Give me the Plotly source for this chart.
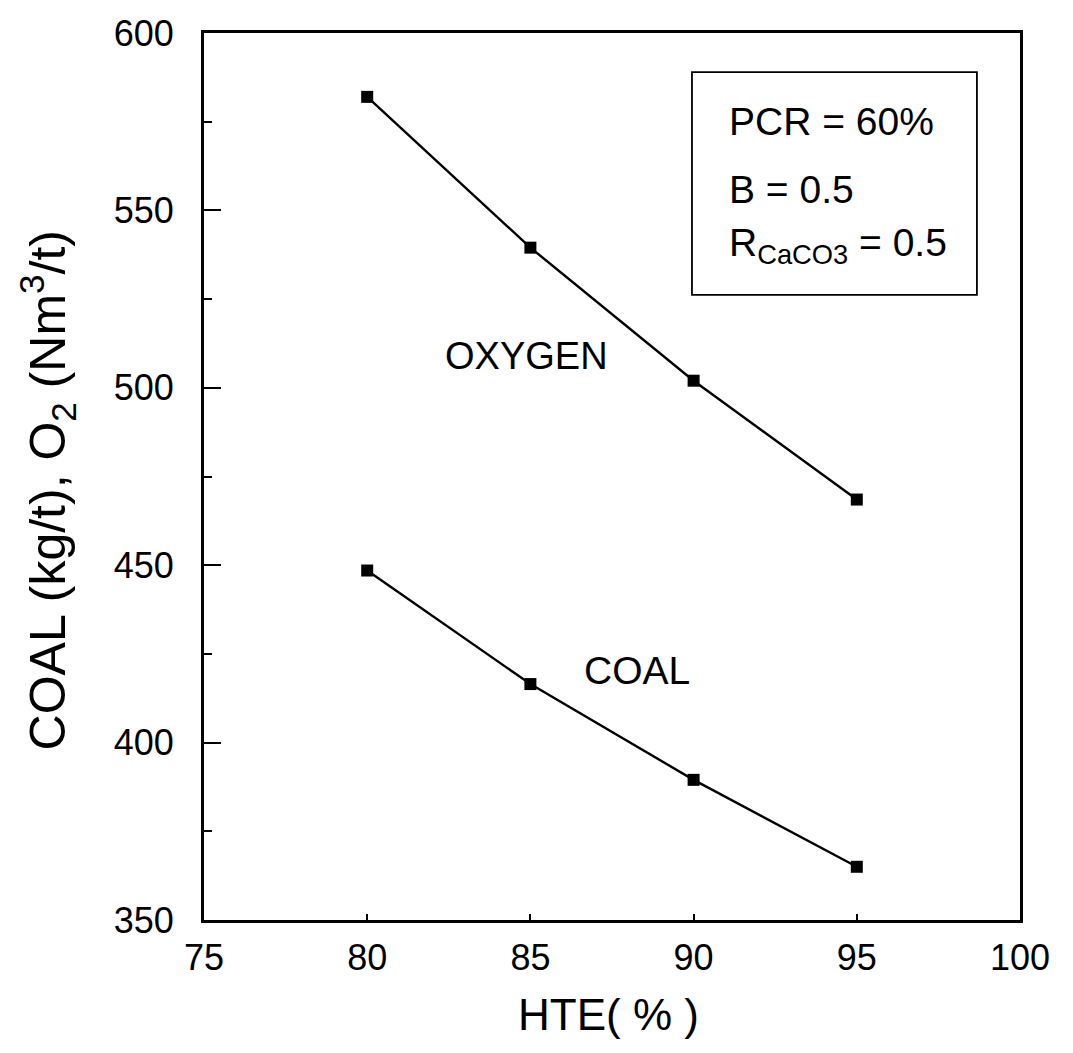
import plotly.graph_objects as go

hte = [80, 85, 90, 95]
oxygen = [582, 539.5, 502, 468.5]
coal = [448.5, 416.5, 389.5, 365]

x_ticks = [75, 80, 85, 90, 95, 100]
y_ticks = [350, 400, 450, 500, 550, 600]
y_minor = [375, 425, 475, 525, 575]

FONT = "Liberation Sans, Arial, sans-serif"

fig = go.Figure()
for name, ys in [("OXYGEN", oxygen), ("COAL", coal)]:
    fig.add_trace(go.Scatter(
        x=hte, y=ys, mode="lines+markers", name=name,
        line=dict(color="black", width=2.4),
        marker=dict(symbol="square", size=12, color="black"),
        showlegend=False,
    ))

fig.update_layout(
    width=1057, height=1037,
    paper_bgcolor="white", plot_bgcolor="white",
    margin=dict(l=196, r=45, t=25, b=125, autoexpand=False),
    font=dict(family=FONT, color="black"),
)
fig.update_xaxes(
    range=[75, 100], tickvals=x_ticks, ticks="inside", ticklen=6, tickwidth=1.5,
    tickcolor="black", showline=True, linecolor="black", linewidth=2.8, mirror=True,
    showgrid=False, zeroline=False, tickfont=dict(size=36, family=FONT),
    ticklabelstandoff=4, automargin=False,
)
fig.update_yaxes(
    range=[350, 600], tickvals=y_ticks, ticks="inside", ticklen=17, tickwidth=1.5,
    tickcolor="black", showline=True, linecolor="black", linewidth=2.8, mirror=True,
    minor=dict(tickvals=y_minor, ticks="inside", ticklen=8, tickcolor="black", tickwidth=1.5),
    showgrid=False, zeroline=False, tickfont=dict(size=36, family=FONT),
    ticklabelstandoff=20, automargin=False,
)

# axis titles (placed in paper coordinates outside the plot area)
fig.add_annotation(x=0.4951, y=-0.106, xref="paper", yref="paper", text="HTE( % )",
                   xanchor="center", yanchor="middle",
                   showarrow=False, font=dict(size=44, family=FONT))
fig.add_annotation(x=-0.1906, y=0.4848, xref="paper", yref="paper",
                   text="COAL (kg/t), O<sub>2</sub> (Nm<sup>3</sup>/t)", textangle=-90,
                   xanchor="center", yanchor="middle",
                   showarrow=False, font=dict(size=50, family=FONT))

fig.add_shape(type="rect", xref="x", yref="y", x0=89.95, x1=98.68, y0=526.2, y1=589.0,
              line=dict(color="black", width=1.8), fillcolor="white", layer="below")

box_lines = ["PCR = 60%", "B = 0.5", "R<sub>CaCO3</sub> = 0.5"]
box_y = [575.0, 556.0, 540.0]
for txt, yy in zip(box_lines, box_y):
    fig.add_annotation(x=91.03, y=yy, xref="x", yref="y", text=txt, showarrow=False,
                       xanchor="left", font=dict(size=39, family=FONT))

fig.add_annotation(x=84.88, y=509.0, xref="x", yref="y", text="OXYGEN", showarrow=False,
                   font=dict(size=38, family=FONT))
fig.add_annotation(x=88.28, y=420.2, xref="x", yref="y", text="COAL", showarrow=False,
                   font=dict(size=39, family=FONT))

fig.write_html("out.html")
